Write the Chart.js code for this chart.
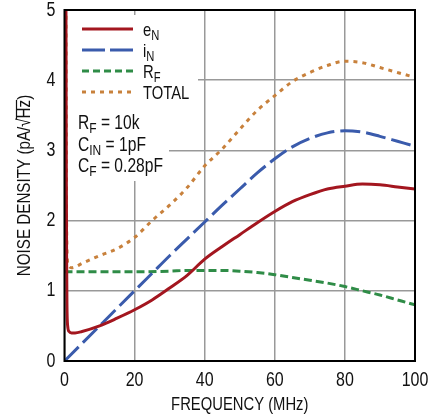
<!DOCTYPE html>
<html>
<head>
<meta charset="utf-8">
<script src="https://cdn.jsdelivr.net/npm/chart.js@4"></script>
<style>
  html, body { margin: 0; padding: 0; background: #fff; }
  #wrap { width: 429px; height: 419px; }
</style>
</head>
<body>
<div id="wrap"><canvas id="noiseChart" width="429" height="419"></canvas></div>
<script>
// Values (frequency in MHz, density in pA/rtHz)
const enFreq = [0.3, 0.5, 0.6, 0.7, 0.9, 1.3, 2, 3, 5, 10, 15, 20, 25, 30, 35, 40, 45, 50, 55, 60, 65, 70, 75, 80, 85, 90, 95, 100];
const enVals = [8, 3, 1.5, 0.8, 0.5, 0.42, 0.40, 0.40, 0.42, 0.50, 0.61, 0.73, 0.87, 1.04, 1.22, 1.45, 1.63, 1.80, 1.97, 2.13, 2.27, 2.37, 2.45, 2.49, 2.52, 2.51, 2.48, 2.45];

const inFreq = [0, 5, 10, 15, 20, 25, 30, 35, 40, 45, 50, 55, 60, 65, 70, 75, 80, 85, 90, 95, 100];
const inVals = [0, 0.25, 0.5, 0.75, 1.0, 1.25, 1.5, 1.74, 1.98, 2.22, 2.45, 2.68, 2.88, 3.05, 3.17, 3.25, 3.28, 3.26, 3.20, 3.13, 3.06];

const rfFreq = [0, 10, 20, 30, 35, 40, 45, 50, 55, 60, 65, 70, 75, 80, 85, 90, 95, 100];
const rfVals = [1.27, 1.27, 1.27, 1.28, 1.29, 1.29, 1.29, 1.28, 1.26, 1.23, 1.19, 1.15, 1.11, 1.06, 1.00, 0.94, 0.87, 0.80];

const totFreq = [0.3, 0.5, 0.7, 1, 2, 3, 5, 10, 15, 20, 25, 30, 35, 40, 45, 50, 55, 60, 65, 70, 75, 80, 85, 90, 95, 100];
const totVals = [8, 3, 1.6, 1.38, 1.33, 1.34, 1.39, 1.50, 1.60, 1.76, 2.0, 2.22, 2.47, 2.78, 3.02, 3.30, 3.57, 3.78, 3.98, 4.11, 4.21, 4.27, 4.25, 4.18, 4.11, 4.04];

const xTicks = [0, 20, 40, 60, 80, 100];
const yTicks = [0, 1, 2, 3, 4, 5];

const FONT = '"Liberation Sans", Arial, sans-serif';
const NARROW = 0.8;   // squeeze text sideways, the original uses a condensed face
const INK = '#111';
const RED = '#a3161f';
const BLUE = '#3a5bac';
const GREEN = '#2f8c47';
const ORANGE = '#c8813c';

function pts(xs, ys) {
    return xs.map((x, i) => ({ x: x, y: ys[i] }));
}

// Legend rows: colour, dash, main text, subscript
const legendRows = [
    { color: RED, dash: [], main: 'e', sub: 'N' },
    { color: BLUE, dash: [23, 5], main: 'i', sub: 'N' },
    { color: GREEN, dash: [7, 4], main: 'R', sub: 'F' },
    { color: ORANGE, dash: [4, 5], main: 'TOTAL', sub: '' }
];

// Circuit values printed under the legend
const notes = [
    ['R', 'F', ' = 10k'],
    ['C', 'IN', ' = 1pF'],
    ['C', 'F', ' = 0.28pF']
];

// condensed text, returns drawn width
function narrowText(ctx, text, x, y, size, align, baseline) {
    ctx.save();
    ctx.font = size + 'px ' + FONT;
    ctx.textAlign = align || 'left';
    ctx.textBaseline = baseline || 'alphabetic';
    ctx.translate(x, y);
    ctx.scale(NARROW, 1);
    ctx.fillText(text, 0, 0);
    const w = ctx.measureText(text).width * NARROW;
    ctx.restore();
    return w;
}

function subText(ctx, x, y, main, sub, rest, size) {
    x += narrowText(ctx, main, x, y, size);
    x += narrowText(ctx, sub, x, y + 4, Math.round(size * 0.75));
    narrowText(ctx, rest, x, y, size);
}

function narrowWidth(ctx, text, size) {
    ctx.save();
    ctx.font = size + 'px ' + FONT;
    const w = ctx.measureText(text).width * NARROW;
    ctx.restore();
    return w;
}

const panelPlugin = {
    id: 'panel',
    beforeDatasetsDraw(chart) {
        const ctx = chart.ctx;
        const area = chart.chartArea;
        ctx.save();
        ctx.fillStyle = '#fff';
        ctx.fillRect(area.left + 1, 15, 197 - area.left, 90);
        ctx.fillRect(area.left + 1, 105, 168 - area.left, 76);
        ctx.restore();
    },
    afterDatasetsDraw(chart) {
        const ctx = chart.ctx;
        const area = chart.chartArea;
        const xs = chart.scales.x;
        const ys = chart.scales.y;
        ctx.save();
        // frame
        ctx.strokeStyle = '#000';
        ctx.lineWidth = 2;
        ctx.strokeRect(area.left, area.top, area.right - area.left, area.bottom - area.top);

        ctx.fillStyle = INK;

        // tick labels from the scales
        xs.ticks.forEach(t => {
            narrowText(ctx, String(t.value), xs.getPixelForValue(t.value), area.bottom + 19, 20, 'center', 'middle');
        });
        ys.ticks.forEach(t => {
            narrowText(ctx, String(t.value), area.left - 9, ys.getPixelForValue(t.value), 20, 'right', 'middle');
        });

        // x title
        narrowText(ctx, 'FREQUENCY (MHz)', (area.left + area.right) / 2, 405, 18.5, 'center', 'middle');

        // legend
        legendRows.forEach((row, i) => {
            const y = 29 + i * 21;
            ctx.strokeStyle = row.color;
            ctx.lineWidth = 3;
            ctx.setLineDash(row.dash);
            ctx.beginPath();
            ctx.moveTo(82, y);
            ctx.lineTo(133, y);
            ctx.stroke();
            ctx.setLineDash([]);
            subText(ctx, 143, y + 6.5, row.main, row.sub, '', 18.5);
        });

        // notes
        notes.forEach((n, i) => {
            subText(ctx, 78, 129 + i * 21.5, n[0], n[1], n[2], 19.5);
        });

        // y axis title with overbar on Hz
        ctx.translate(25, (area.top + area.bottom) / 2);
        ctx.rotate(-Math.PI / 2);
        const size = 19;
        const parts = ['NOISE DENSITY (pA/', '\u221A', 'Hz', ')'];
        const widths = parts.map(p => narrowWidth(ctx, p, size));
        let x = -widths.reduce((a, b) => a + b, 0) / 2;
        parts.forEach((p, i) => {
            narrowText(ctx, p, x, 0, size, 'left', 'middle');
            if (p === 'Hz') {
                ctx.strokeStyle = INK;
                ctx.lineWidth = 1.2;
                ctx.beginPath();
                ctx.moveTo(x - 1, -8.5);
                ctx.lineTo(x + widths[i], -8.5);
                ctx.stroke();
            }
            x += widths[i];
        });
        ctx.restore();
    }
};

function initializeChart() {
    const ctx = document.getElementById('noiseChart').getContext('2d');

    new Chart(ctx, {
        type: 'line',
        data: {
            datasets: [
                {
                    label: 'eN',
                    data: pts(enFreq, enVals),
                    borderColor: RED,
                    borderWidth: 3,
                    pointRadius: 0,
                    cubicInterpolationMode: 'monotone'
                },
                {
                    label: 'iN',
                    data: pts(inFreq, inVals),
                    borderColor: BLUE,
                    borderWidth: 3,
                    borderDash: [20, 6],
                    pointRadius: 0,
                    cubicInterpolationMode: 'monotone'
                },
                {
                    label: 'RF',
                    data: pts(rfFreq, rfVals),
                    borderColor: GREEN,
                    borderWidth: 3,
                    borderDash: [8, 4],
                    pointRadius: 0,
                    cubicInterpolationMode: 'monotone'
                },
                {
                    label: 'TOTAL',
                    data: pts(totFreq, totVals),
                    borderColor: ORANGE,
                    borderWidth: 3,
                    borderDash: [4, 5],
                    pointRadius: 0,
                    cubicInterpolationMode: 'monotone'
                }
            ]
        },
        options: {
            responsive: false,
            animation: false,
            layout: { padding: { left: 0, right: 14, top: 10, bottom: 0 } },
            plugins: {
                legend: { display: false },
                tooltip: { enabled: false }
            },
            scales: {
                x: {
                    type: 'linear',
                    min: 0,
                    max: 100,
                    afterBuildTicks: scale => { scale.ticks = xTicks.map(v => ({ value: v })); },
                    afterFit: scale => { scale.height = 58; },
                    grid: { color: '#999', lineWidth: 1.5, drawTicks: false },
                    border: { display: false },
                    ticks: { display: false }
                },
                y: {
                    min: 0,
                    max: 5,
                    afterBuildTicks: scale => { scale.ticks = yTicks.map(v => ({ value: v })); },
                    afterFit: scale => { scale.width = 64.5; },
                    grid: { color: '#999', lineWidth: 1.5, drawTicks: false },
                    border: { display: false },
                    ticks: { display: false }
                }
            }
        },
        plugins: [panelPlugin]
    });
}

document.addEventListener('DOMContentLoaded', initializeChart);
</script>
</body>
</html>
